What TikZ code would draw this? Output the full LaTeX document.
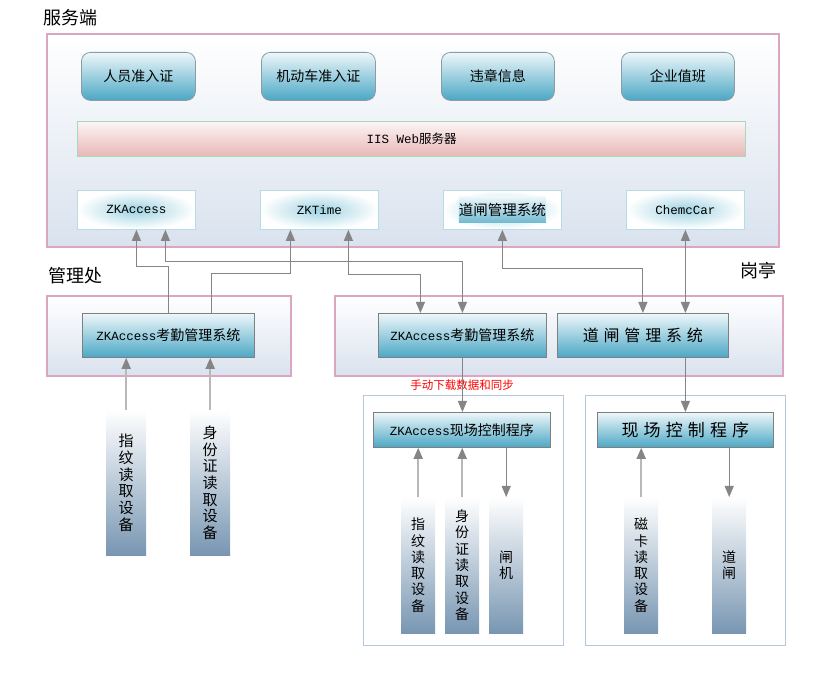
\documentclass[tikz,border=0pt]{standalone}
\usepackage{fontspec}
\setmainfont{Noto Sans CJK SC}
\newfontfamily\monofont{Liberation Mono}
\newfontfamily\widefont{Noto Sans CJK SC}[LetterSpace=30]
\usetikzlibrary{arrows.meta}
\definecolor{regionpink}{HTML}{DCA6C0}
\definecolor{regionbot}{HTML}{D9E2EE}
\definecolor{tealtop}{HTML}{EEF7FA}
\definecolor{tealbot}{HTML}{4BA7C5}
\definecolor{permitline}{HTML}{8C9CA4}
\definecolor{webtop}{HTML}{FDF4F4}
\definecolor{webbot}{HTML}{E8B6B6}
\definecolor{webline}{HTML}{A3D9BC}
\definecolor{sysin}{HTML}{9FD3E2}
\definecolor{sysline}{HTML}{B6DCE8}
\definecolor{appline}{HTML}{7F7F7F}
\definecolor{siteline}{HTML}{B4C8DC}
\definecolor{barbot}{HTML}{7896B2}
\definecolor{arrowgray}{HTML}{858585}
\definecolor{feedgray}{HTML}{B8B8B8}
\newcommand{\mono}[1]{{\monofont\fontsize{12.5}{14}\selectfont #1}}
\tikzset{
  box/.style={inner sep=0pt, anchor=north west},
  wh/.style 2 args={minimum width=#1, minimum height=#2},
  title/.style={inner sep=0pt, anchor=west, font=\fontsize{18}{20}\selectfont},
  region/.style={box, draw=regionpink, line width=1.6pt, top color=white, bottom color=regionbot},
  permit/.style={box, draw=permitline, line width=0.8pt, rounded corners=9pt, top color=tealtop, bottom color=tealbot, font=\fontsize{14}{16}\selectfont},
  webbar/.style={box, draw=webline, line width=1.4pt, top color=webtop, bottom color=webbot, font=\fontsize{12.5}{14}\selectfont},
  sysbox/.style={box, draw=sysline, line width=0.8pt, inner color=sysin, outer color=white},
  hilite/.style={inner sep=0pt, minimum height=26pt, top color=tealtop, bottom color=tealbot!80, font=\fontsize{14.5}{16}\selectfont},
  appbox/.style={box, draw=appline, line width=0.8pt, top color=tealtop, bottom color=tealbot, font=\fontsize{14}{16}\selectfont},
  site/.style={box, draw=siteline, line width=0.8pt, fill=white},
  bar/.style={box, top color=white, bottom color=barbot, align=center},
  note/.style={inner sep=0pt, text=red, font=\fontsize{11.5}{13}\selectfont},
  link/.style={draw=arrowgray, line width=1pt},
  feed/.style={draw=feedgray, line width=1.6pt, -{Triangle[length=11pt,width=9pt,color=arrowgray]}}
}
\begin{document}
\begin{tikzpicture}[x=1pt, y=-1pt, >={Triangle[length=11pt,width=9pt]}]
\useasboundingbox (0,0) rectangle (820,684);
\node[title] (srvtitle) at (43,18) {服务端};
\node[region, wh={732}{213}] (srv) at (46,33) {};
\node[permit, wh={114}{48}] (p1) at (81,52) {人员准入证};
\node[permit, wh={114}{48}] (p2) at (261,52) {机动车准入证};
\node[permit, wh={113}{48}] (p3) at (441,52) {违章信息};
\node[permit, wh={113}{48}] (p4) at (621,52) {企业值班};
\node[webbar, wh={668}{35}] (iis) at (77,121) {\mono{IIS Web}服务器};
\node[sysbox, wh={118}{39}] (zka) at (77,190) {\mono{ZKAccess}};
\node[sysbox, wh={118}{39}] (zkt) at (260,190) {\mono{ZKTime}};
\node[sysbox, wh={118}{39}] (dz) at (443,190) {};
\node[hilite] (dzlabel) at (dz.center) {道闸管理系统};
\node[sysbox, wh={118}{39}] (cc) at (626,190) {\mono{ChemcCar}};
\node[title] (glctitle) at (48,276) {管理处};
\node[region, wh={244}{80}] (glc) at (46,295) {};
\node[appbox, wh={172}{44}] (kq1) at (82,313) {\mono{ZKAccess}考勤管理系统};
\node[title] (gttitle) at (740,271) {岗亭};
\node[region, wh={448}{80}] (gt) at (334,295) {};
\node[appbox, wh={168}{44}] (kq2) at (378,313) {\mono{ZKAccess}考勤管理系统};
\node[appbox, wh={171}{44}, font=\widefont\fontsize{16}{18}\selectfont] (dzgl) at (557,313) {道闸管理系统};
\node[note] (sync) at (462,385) {手动下载数据和同步};
\node[site, wh={200}{250}] (siteL) at (363,395) {};
\node[site, wh={200}{250}] (siteR) at (585,395) {};
\node[appbox, wh={177}{35}] (xc1) at (373,412) {\mono{ZKAccess}现场控制程序};
\node[appbox, wh={176}{35}, font=\widefont\fontsize{17}{19}\selectfont] (xc2) at (597,412) {现场控制程序};
\node[bar, wh={40}{145}, font=\fontsize{15}{16.7}\selectfont] (fp1) at (106,410) {指\\纹\\读\\取\\设\\备};
\node[bar, wh={40}{145}, font=\fontsize{15}{16.7}\selectfont] (id1) at (190,410) {身\\份\\证\\读\\取\\设\\备};
\node[bar, wh={34}{136}, font=\fontsize{14}{16.3}\selectfont] (fp2) at (401,497) {指\\纹\\读\\取\\设\\备};
\node[bar, wh={34}{136}, font=\fontsize{14}{16.3}\selectfont] (id2) at (445,497) {身\\份\\证\\读\\取\\设\\备};
\node[bar, wh={34}{136}, font=\fontsize{14}{16.3}\selectfont] (gate) at (489,497) {闸\\机};
\node[bar, wh={34}{136}, font=\fontsize{14}{16.3}\selectfont] (card) at (624,497) {磁\\卡\\读\\取\\设\\备};
\node[bar, wh={34}{136}, font=\fontsize{14}{16.3}\selectfont] (barrier) at (712,497) {道\\闸};
\draw[link, ->] (kq1.north) -- ++(0,-46) -| (zka.south);
\draw[link, ->] ([xshift=43pt]kq1.north) -- ++(0,-39) -| ([xshift=-29pt]zkt.south);
\draw[link, <->] ([xshift=29pt]zka.south) -- ++(0,32) -| (kq2.north);
\draw[link, <->] ([xshift=29pt]zkt.south) -- ++(0,45) -| ([xshift=-42pt]kq2.north);
\draw[link, <->] (dz.south) -- ++(0,39) -| (dzgl.north);
\draw[link, <->] (cc.south) -- (cc.south |- dzgl.north);
\draw[link, ->] (kq2.south) -- (kq2.south |- xc1.north);
\draw[link, ->] (xc2.north |- dzgl.south) -- (xc2.north);
\draw[feed] (fp1.north) -- (fp1.north |- kq1.south);
\draw[feed] (id1.north) -- (id1.north |- kq1.south);
\draw[feed] (fp2.north) -- (fp2.north |- xc1.south);
\draw[feed] (id2.north) -- (id2.north |- xc1.south);
\draw[link, ->] (gate.north |- xc1.south) -- (gate.north);
\draw[feed] (card.north) -- (card.north |- xc2.south);
\draw[link, ->] (barrier.north |- xc2.south) -- (barrier.north);
\end{tikzpicture}
\end{document}
